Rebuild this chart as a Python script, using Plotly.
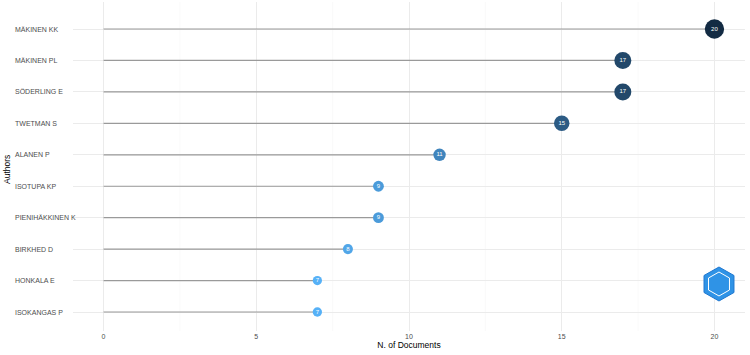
import plotly.graph_objects as go

authors = ["ISOKANGAS P", "HONKALA E", "BIRKHED D", "PIENIHÄKKINEN K", "ISOTUPA KP",
           "ALANEN P", "TWETMAN S", "SÖDERLING E", "MÄKINEN PL", "MÄKINEN KK"]
docs = [7, 7, 8, 9, 9, 11, 15, 17, 17, 20]
x_ticks = [0, 5, 10, 15, 20]

W, H = 750, 355
L, R, T, B = 73, 5, 2, 24
pw, ph = W - L - R, H - T - B

fig = go.Figure()

# stems
for a, v in zip(authors, docs):
    fig.add_trace(go.Scatter(x=[0, v], y=[a, a], mode="lines",
                             line=dict(color="#9a9a9a", width=1.2),
                             hoverinfo="skip", showlegend=False))

sizes = [9.3 + (v - 7) * 0.77 for v in docs]
fig.add_trace(go.Scatter(
    x=docs, y=authors, mode="markers+text",
    text=[str(v) for v in docs], textposition="middle center",
    textfont=dict(color="white", size=6, family="Liberation Sans"),
    marker=dict(size=sizes, color=docs, cmin=min(docs), cmax=max(docs), opacity=1,
                colorscale=[[0, "#56B1F7"], [0.5, "#336A98"], [1, "#132B43"]],
                line=dict(width=0)),
    showlegend=False))

# minor vertical gridlines
for m in [2.5, 7.5, 12.5, 17.5]:
    fig.add_shape(type="line", xref="x", yref="paper", x0=m, x1=m, y0=0, y1=1,
                  line=dict(color="#f6f6f6", width=0.6), layer="below")

# left-aligned y labels
for a in authors:
    fig.add_annotation(x=(13 - L) / pw, xref="paper", y=a, yref="y", text=a,
                       showarrow=False, xanchor="left",
                       font=dict(size=7, color="#4d4d4d", family="Liberation Sans"))

fig.add_annotation(x=(0 - L) / pw, xref="paper", y=(H - B - 170) / ph, yref="paper",
                   text="Authors", textangle=-90, showarrow=False, xanchor="left",
                   font=dict(size=8.5, color="#000000", family="Liberation Sans"))

# logo-like hexagon
cx, cy = 719, 284
pts = [(cx, cy - 17), (cx + 15, cy - 8.5), (cx + 15, cy + 8.5), (cx, cy + 17),
       (cx - 15, cy + 8.5), (cx - 15, cy - 8.5)]
def tp(p):
    return ((p[0] - L) / pw, (H - B - p[1]) / ph)
path = "M " + " L ".join(f"{tp(p)[0]:.4f},{tp(p)[1]:.4f}" for p in pts) + " Z"
fig.add_shape(type="path", xref="paper", yref="paper", path=path,
              fillcolor="#2f93e6", line=dict(color="#1f77d0", width=1))
pts2 = [(cx, cy - 12), (cx + 10.5, cy - 6), (cx + 10.5, cy + 6), (cx, cy + 12),
        (cx - 10.5, cy + 6), (cx - 10.5, cy - 6)]
path2 = "M " + " L ".join(f"{tp(p)[0]:.4f},{tp(p)[1]:.4f}" for p in pts2) + " Z"
fig.add_shape(type="path", xref="paper", yref="paper", path=path2,
              fillcolor="rgba(0,0,0,0)", line=dict(color="white", width=1))

fig.update_layout(
    width=W, height=H, margin=dict(l=L, r=R, t=T, b=B),
    plot_bgcolor="white", paper_bgcolor="white",
    font=dict(family="Liberation Sans"),
    xaxis=dict(range=[-1, 21], tickvals=x_ticks, ticktext=[str(t) for t in x_ticks],
               showgrid=True, gridcolor="#ebebeb", gridwidth=0.8, zeroline=False,
               tickfont=dict(size=7, color="#4d4d4d"), ticks="", showline=False,
               title=dict(text="N. of Documents", font=dict(size=8.5, color="#000"),
                          standoff=2)),
    yaxis=dict(type="category", categoryorder="array", categoryarray=authors,
               range=[-0.604, 9.859], showgrid=True, gridcolor="#ebebeb", gridwidth=0.8,
               showticklabels=False, ticks="", zeroline=False, showline=False),
)

fig.write_html("out.html")
